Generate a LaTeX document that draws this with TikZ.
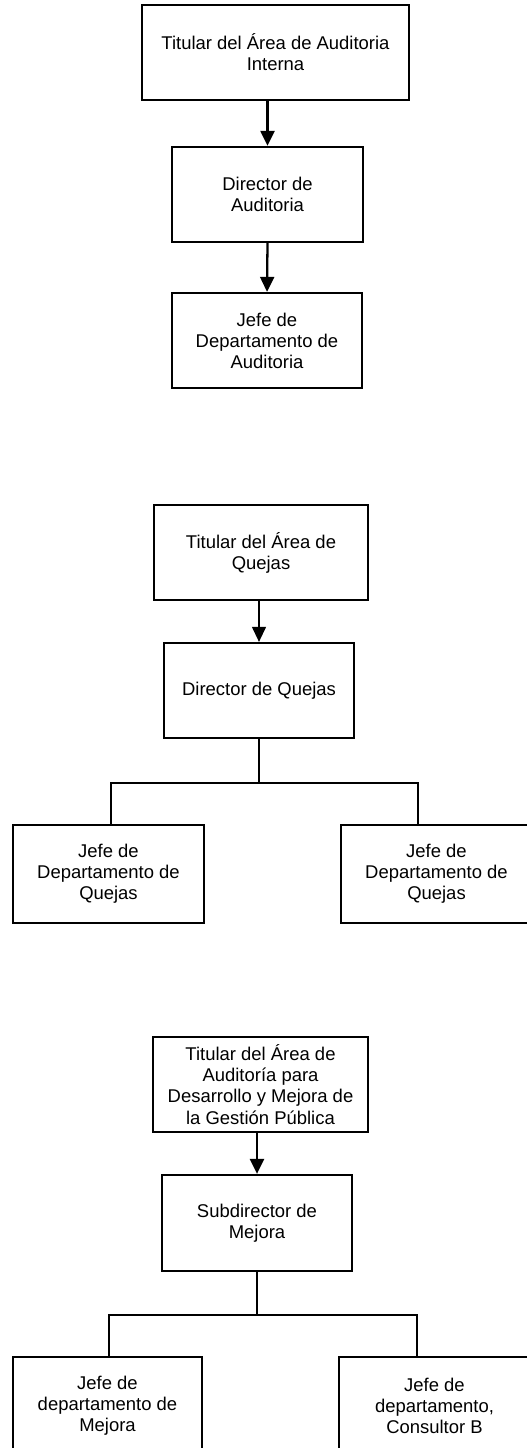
\documentclass[tikz,border=0pt]{standalone}
\usepackage{fontspec}
\setmainfont{Liberation Sans}
\usetikzlibrary{arrows.meta,positioning}

\begin{document}
\begin{tikzpicture}[every node/.style={font=\fontsize{10.5}{12}\selectfont},
  puesto/.style={draw,line width=1.3pt,align=center,inner sep=0pt,minimum height=1.90cm},
  linea/.style={line width=1.3pt},
  flecha/.style={line width=1.3pt,-{Triangle[length=0.3cm,width=0.28cm]}}]
\useasboundingbox (0,0) rectangle (10.54,-28.96);
% auditoria interna
\node[puesto,minimum width=5.34cm] (aud1) at (5.51,-1.05) {Titular del Área de Auditoria\\Interna};
\node[puesto,minimum width=3.82cm] (aud2) at (5.35,-3.89) {Director de\\Auditoria};
\node[puesto,minimum width=3.80cm] (aud3) at (5.34,-6.81) {Jefe de\\Departamento de\\Auditoria};
\draw[flecha] (aud2.north |- aud1.south) -- (aud2.north);
\draw[flecha] (aud2.south) -- (aud3.north);
% quejas
\node[puesto,minimum width=4.28cm] (que1) at (5.22,-11.05) {Titular del Área de\\Quejas};
\node[puesto,minimum width=3.80cm] (que2) at (5.18,-13.81) {Director de Quejas};
\node[puesto,minimum width=3.82cm,minimum height=1.96cm] (que3) at (2.17,-17.48) {Jefe de\\Departamento de\\Quejas};
\node[puesto,minimum width=3.82cm,minimum height=1.96cm] (que4) at (8.73,-17.48) {Jefe de\\Departamento de\\Quejas};
\coordinate (qizq) at (2.22,-15.66);
\coordinate (qder) at (8.36,-15.66);
\draw[flecha,line width=.7pt] (que2.north |- que1.south) -- (que2.north);
\draw[line width=.9pt] (que2.south) -- (que2.south |- qizq);
\draw[linea] (qizq |- que3.north) -- (qizq) -- (qder) -- (qder |- que4.north);
% mejora de la gestion publica
\node[puesto,minimum width=4.30cm] (mej1) at (5.21,-21.69) {Titular del Área de\\Auditoría para\\Desarrollo y Mejora de\\la Gestión Pública};
\node[puesto,minimum width=3.80cm,minimum height=1.92cm] (mej2) at (5.14,-24.46) {Subdirector de\\Mejora};
\node[puesto,minimum width=3.78cm,minimum height=1.96cm] (mej3) at (2.15,-28.12) {Jefe de\\departamento de\\Mejora};
\node[puesto,minimum width=3.82cm,minimum height=1.96cm] (mej4) at (8.69,-28.12) {Jefe de\\departamento,\\Consultor B};
\coordinate (mizq) at (2.18,-26.30);
\coordinate (mder) at (8.34,-26.30);
\draw[flecha] (mej2.north |- mej1.south) -- (mej2.north);
\draw[linea] (mej2.south) -- (mej2.south |- mizq);
\draw[linea] (mizq |- mej3.north) -- (mizq) -- (mder) -- (mder |- mej4.north);
\end{tikzpicture}
\end{document}
